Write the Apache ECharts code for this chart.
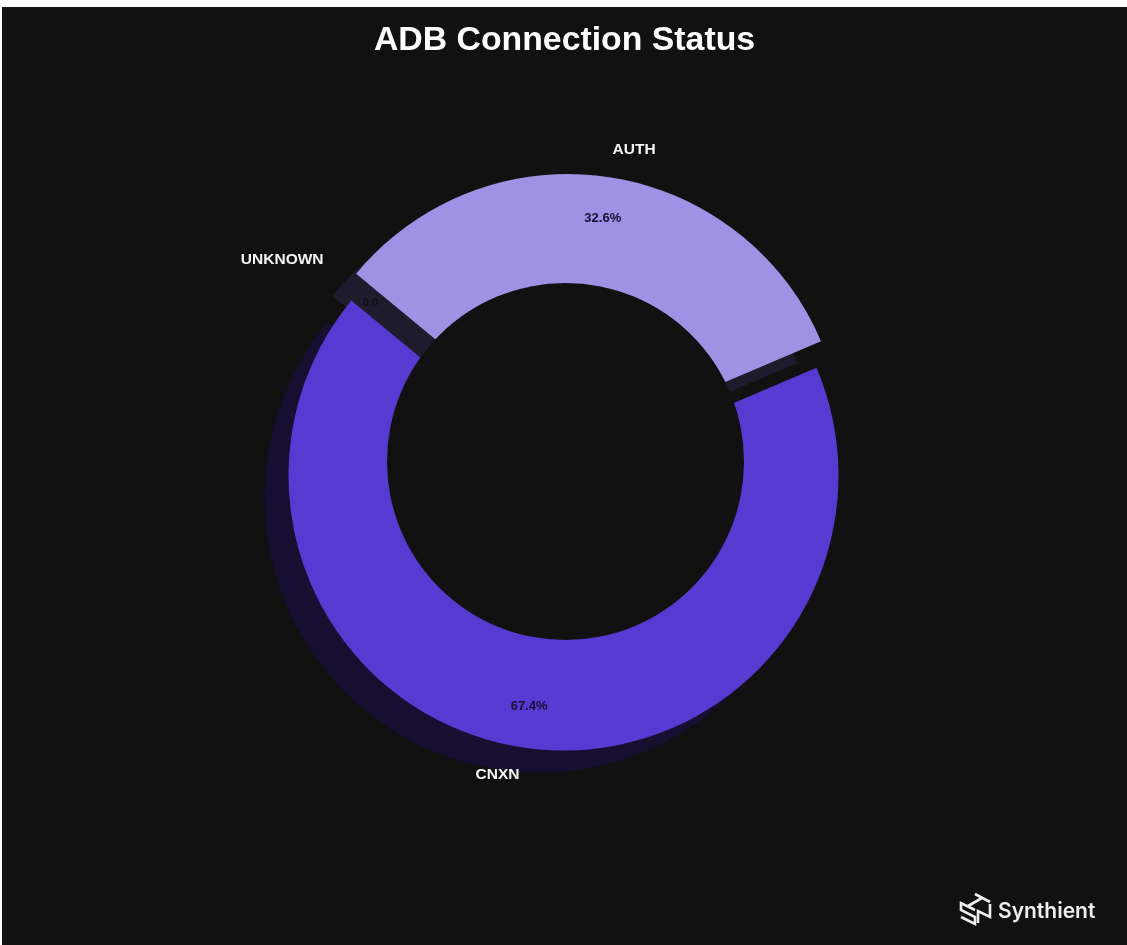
<!DOCTYPE html>
<html>
<head>
<meta charset="utf-8">
<style>
  html, body { margin: 0; padding: 0; background: #fff; }
  #chart { position: absolute; left: 2px; top: 7px; width: 1125px; height: 938px; }
</style>
<script src="https://cdn.jsdelivr.net/npm/echarts@6/dist/echarts.min.js"></script>
</head>
<body>
<div id="chart"></div>
<script>
// ADB connection status donut with exploded wedges and offset shadows.
const categories = ['AUTH', 'CNXN', 'UNKNOWN'];
const shares = [32.6, 67.4, 0.03];
const shareLabels = ['32.6%', '67.4%', '0.0'];

const BG = '#111111';
const wedgeColors = { AUTH: '#9f91e3', CNXN: '#573ad2' };
const shadowColors = { AUTH: '#1e1b2c', CNXN: '#170f32' };
const START_ANGLE = 140.4;
const R = 275;
const HOLE_R = 178.5;
const FONT = '"Liberation Sans", Arial, sans-serif';

// Chart positions are given in window pixels and shifted into the container.
const at = (x, y) => [x - 2, y - 7];

const rows = (styleFor, labelFor) => categories.map((name, i) => ({
  name,
  value: shares[i],
  itemStyle: styleFor(name),
  label: labelFor ? labelFor(name, i) : { show: false }
}));

const hidden = { color: 'transparent', borderWidth: 0 };

function pieLayer(center, radius, styleFor, labelFor, z) {
  return {
    type: 'pie',
    silent: true,
    animation: false,
    clockwise: true,
    startAngle: START_ANGLE,
    center: at(center[0], center[1]),
    radius,
    z,
    minAngle: 0,
    avoidLabelOverlap: false,
    labelLine: { show: false },
    data: rows(styleFor, labelFor)
  };
}

// A filled wedge for one category; the other categories stay invisible.
const wedge = (center, target, color, z) =>
  pieLayer(center, [0, R], n => (n === target ? { color, borderWidth: 0 } : hidden), null, z);

// An invisible ring whose mid radius carries one category's label.
const labelRing = (center, r0, r1, target, text, style, layout) => {
  const layer = pieLayer(center, [r0, r1], () => hidden, n => (n === target
    ? Object.assign({ show: true, position: 'inside', formatter: text, rotate: 0, fontFamily: FONT, fontWeight: 'bold' }, style)
    : { show: false }), 6);
  if (layout) layer.labelLayout = layout;
  return layer;
};

const authCenter = [568, 449];
const cnxnCenter = [563.5, 475.5];
const holeCenter = [565.5, 461.5];
const shadowShift = [-24, 22];
const shifted = c => [c[0] + shadowShift[0], c[1] + shadowShift[1]];

const nameStyle = { color: '#f5f5f5', fontSize: 15.5 };
const pctStyle = { color: '#150f33', fontSize: 13 };

// Isometric logo: S, N and T strokes laid on the faces of a cube.
const LOGO_STROKE = '#eeeeee';
const logoLine = points => ({
  type: 'polyline',
  shape: { points },
  style: { stroke: LOGO_STROKE, fill: 'none', lineWidth: 2.6, lineJoin: 'miter' }
});
const logoS = [[35, 30], [21, 23], [21, 30], [35, 37], [35, 44], [21, 37]];
const logoN = [[38, 43], [38, 31], [50, 37], [50, 24]];
const logoTBar = [[35, 14], [50, 22]];
const logoTStem = [[42, 18], [28, 26]];

const option = {
  backgroundColor: BG,
  title: {
    text: 'ADB Connection Status',
    left: 'center',
    top: 12,
    textStyle: { color: '#ffffff', fontSize: 33.8, fontWeight: 'bold', fontFamily: FONT }
  },
  series: [
    wedge(shifted(cnxnCenter), 'CNXN', shadowColors.CNXN, 1),
    wedge(shifted(authCenter), 'AUTH', shadowColors.AUTH, 2),
    wedge(authCenter, 'AUTH', wedgeColors.AUTH, 3),
    wedge(cnxnCenter, 'CNXN', wedgeColors.CNXN, 4),
    {
      type: 'pie', silent: true, animation: false, z: 5,
      center: at(holeCenter[0], holeCenter[1]),
      radius: [0, HOLE_R],
      label: { show: false }, labelLine: { show: false },
      data: [{ value: 1, itemStyle: { color: BG } }]
    },
    labelRing(authCenter, 196, 268, 'AUTH', shareLabels[0], pctStyle, { dx: 1, dy: 2 }),
    labelRing(cnxnCenter, 196, 266, 'CNXN', shareLabels[1], pctStyle, { dx: -1, dy: -1 }),
    labelRing(holeCenter, 226, 266, 'UNKNOWN', shareLabels[2], { color: '#121116', fontSize: 11 }, { dx: -3 }),
    labelRing(authCenter, 295, 319, 'AUTH', categories[0], nameStyle, { align: 'left', dy: 8 }),
    labelRing(cnxnCenter, 293, 317, 'CNXN', categories[1], nameStyle, { align: 'right', dy: -6 }),
    labelRing(holeCenter, 302, 330, 'UNKNOWN', categories[2], nameStyle, { align: 'right', dx: 4, dy: 1 })
  ],
  graphic: [
    {
      type: 'group', x: 938, y: 873, z: 20, silent: true,
      children: [
        logoLine(logoS),
        logoLine(logoN),
        logoLine(logoTBar),
        logoLine(logoTStem),
        { type: 'text', x: 58, y: 32, style: { text: 'Synthient', fill: '#eeeeee', fontSize: 21, fontWeight: 600, fontFamily: 'Inter, sans-serif', verticalAlign: 'middle' } }
      ]
    }
  ]
};

echarts.init(document.getElementById('chart'), null, { renderer: 'canvas' }).setOption(option);
</script>
</body>
</html>
